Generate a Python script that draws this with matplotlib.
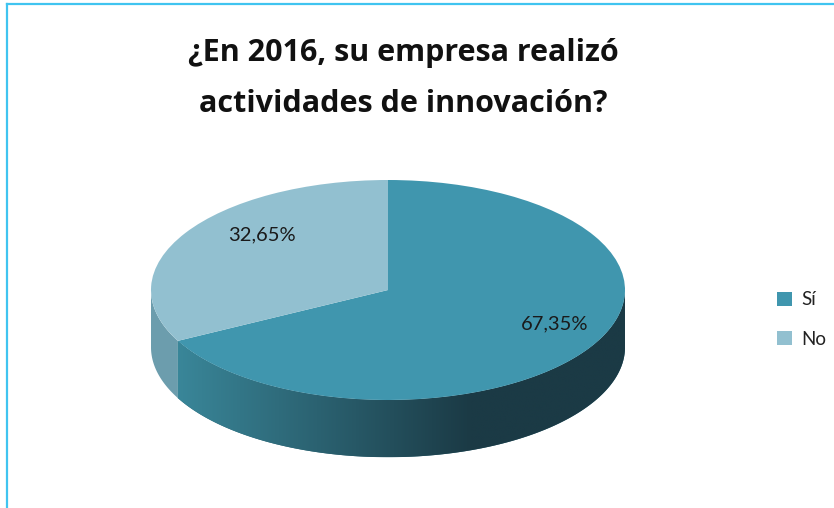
import numpy as np
import matplotlib
matplotlib.use("Agg")
from matplotlib import pyplot as plt
from matplotlib.lines import Line2D
from matplotlib.patches import Polygon
from matplotlib.colors import to_rgb

title = "¿En 2016, su empresa realizó\nactividades de innovación?"
categories = ["Sí", "No"]
values = [67.35, 32.65]
top_colors = ["#4096AE", "#92C0D0"]
label_pos = [(0.705, -0.31), (-0.53, 0.50)]

plt.rcParams['font.family'] = ['Lato', 'DejaVu Sans']

fig = plt.figure(figsize=(8.34, 5.08), dpi=100)
ax = fig.add_axes([0, 0, 1, 1])

W, H = 834, 508
cx, cy = 388, 218          # pie centre in pixels from bottom-left
rx, ry = 237, 110          # pixel radii of the top ellipse
depth = 0.52               # side height in units of ry

wedges, texts, autotexts = ax.pie(
    values, colors=top_colors, startangle=90, counterclock=False,
    autopct=lambda p: f"{p:.2f}%".replace(".", ","),
    wedgeprops=dict(linewidth=0, zorder=3),
    textprops=dict(fontsize=14.5, color="#1a1a1a"))
for t, pos in zip(autotexts, label_pos):
    t.set_position(pos)
    t.set_zorder(5)

# visible front side of the 3d pie (angles between 180 and 360 degrees)
grad_x = np.linspace(-1, 1, 300)
f = np.clip((grad_x + 0.95) / 1.3, 0, 1)[:, None]
light, dark = np.array(to_rgb("#3B8A9D")), np.array(to_rgb("#1B3A45"))
gradient = (light * (1 - f) + dark * f)[None, :, :]
side_flat = ["#2A6272", "#6C9DAD"]

for i, w in enumerate(wedges):
    for k in (-360, 0, 360):
        t1 = max(w.theta1, k - 180)
        t2 = min(w.theta2, k)
        if t2 - t1 <= 0:
            continue
        a = np.radians(np.linspace(t1, t2, 200))
        top = np.column_stack([np.cos(a), np.sin(a)])
        bot = np.column_stack([np.cos(a[::-1]), np.sin(a[::-1]) - depth])
        poly = Polygon(np.vstack([top, bot]), closed=True, lw=0,
                       fc=side_flat[i], zorder=1)
        ax.add_patch(poly)
        if i == 0:
            im = ax.imshow(gradient, extent=(-1, 1, -1 - depth, 1),
                           aspect='auto', interpolation='bilinear', zorder=2)
            im.set_clip_path(poly)

ax.set_aspect('auto')
ax.set_xlim(-cx / rx, (W - cx) / rx)
ax.set_ylim(-cy / ry, (H - cy) / ry)
ax.axis('off')

fig.text(0.484, 0.845, title, ha='center', va='center', fontsize=22,
         fontweight='bold', color='#111111', linespacing=1.9,
         family=['Open Sans', 'DejaVu Sans'])

fig.legend(wedges, categories, loc='center left', bbox_to_anchor=(0.912, 0.371),
           frameon=False, fontsize=13.5, handlelength=0.8, handleheight=0.8,
           handletextpad=0.45, labelspacing=1.2, labelcolor='#222222')

fig.add_artist(Line2D([6.5 / W, 6.5 / W], [0, 1 - 4 / H], color='#40C4F0',
                      lw=1.6, transform=fig.transFigure))
fig.add_artist(Line2D([6.5 / W, 1], [1 - 4 / H, 1 - 4 / H], color='#40C4F0',
                      lw=1.6, transform=fig.transFigure))

fig.savefig("out.png", dpi=100)
